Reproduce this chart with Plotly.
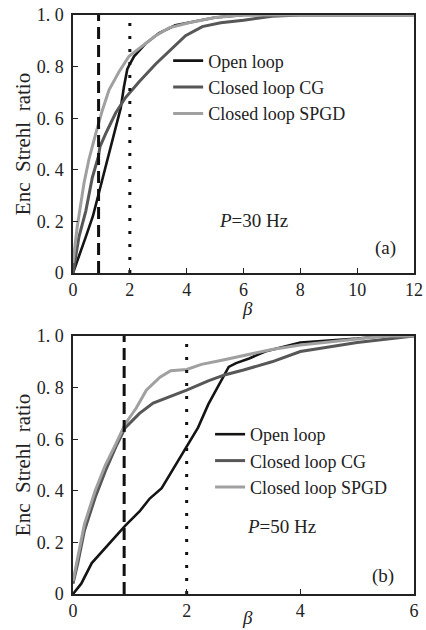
import plotly.graph_objects as go

# ---------------- data ----------------
# panel (a): P = 30 Hz
open_a_x = [0, 0.2, 0.45, 0.7, 0.89, 1.15, 1.44, 1.68, 1.79, 1.91, 2.0, 2.15, 2.56, 3.03, 3.6, 4.0, 4.5, 5.0, 6.0, 8.0, 12.0]
open_a_y = [0, 0.06, 0.14, 0.22, 0.30, 0.41, 0.53, 0.64, 0.72, 0.79, 0.81, 0.84, 0.89, 0.93, 0.96, 0.97, 0.98, 0.99, 1.0, 1.0, 1.0]
cg_a_x = [0, 0.21, 0.45, 0.68, 0.89, 0.95, 1.15, 1.5, 1.85, 2.32, 2.91, 3.38, 3.96, 4.55, 5.2, 6.0, 7.0, 8.0, 12.0]
cg_a_y = [0, 0.14, 0.24, 0.37, 0.45, 0.49, 0.54, 0.62, 0.68, 0.74, 0.81, 0.86, 0.92, 0.955, 0.97, 0.98, 0.995, 1.0, 1.0]
spgd_a_x = [0, 0.15, 0.39, 0.56, 0.8, 1.03, 1.27, 1.62, 1.97, 2.44, 2.91, 3.38, 4.08, 5.0, 6.0, 12.0]
spgd_a_y = [0.04, 0.18, 0.35, 0.44, 0.54, 0.63, 0.71, 0.78, 0.84, 0.88, 0.92, 0.95, 0.97, 0.99, 1.0, 1.0]

# panel (b): P = 50 Hz
open_b_x = [0, 0.145, 0.33, 0.57, 0.92, 1.17, 1.35, 1.56, 1.78, 2.0, 2.2, 2.38, 2.56, 2.74, 2.87, 3.1, 3.38, 4.0, 5.0, 5.5, 6.0]
open_b_y = [0, 0.04, 0.12, 0.18, 0.265, 0.32, 0.37, 0.41, 0.49, 0.57, 0.645, 0.735, 0.81, 0.88, 0.895, 0.913, 0.94, 0.975, 0.99, 1.0, 1.0]
cg_b_x = [0, 0.085, 0.2, 0.39, 0.57, 0.75, 0.92, 1.17, 1.41, 1.66, 2.0, 2.38, 2.68, 3.0, 3.5, 4.0, 5.0, 6.0]
cg_b_y = [0.04, 0.12, 0.245, 0.374, 0.477, 0.568, 0.645, 0.70, 0.74, 0.76, 0.79, 0.826, 0.85, 0.868, 0.90, 0.94, 0.975, 1.0]
spgd_b_x = [0, 0.085, 0.2, 0.39, 0.57, 0.75, 0.92, 1.11, 1.29, 1.53, 1.72, 2.0, 2.26, 2.62, 3.0, 3.5, 4.0, 5.0, 5.5, 6.0]
spgd_b_y = [0.05, 0.14, 0.27, 0.40, 0.50, 0.58, 0.66, 0.72, 0.79, 0.84, 0.865, 0.87, 0.89, 0.906, 0.925, 0.948, 0.965, 0.987, 1.0, 1.0]

# reference vertical lines
dash_beta = [0.9, 0.9]
dot_beta = [2.0, 2.0]
dash_y_a = [0, 1.0]
dot_y_a = [0, 1.0]
dash_y_b = [0, 1.0]
dot_y_b = [0, 0.98]

series_names = ["Open loop", "Closed loop CG", "Closed loop SPGD"]
y_tickvals = [0, 0.2, 0.4, 0.6, 0.8, 1.0]
y_ticktext = ["0", "0.\u00a02", "0.\u00a04", "0.\u00a06", "0.\u00a08", "1.\u00a00"]
x_ticks_a = [0, 2, 4, 6, 8, 10, 12]
x_ticks_b = [0, 2, 4, 6]

# ---------------- style ----------------
FONT = "Liberation Serif"
colors = ["#141414", "#575757", "#a0a0a0"]
widths = [2.6, 3.0, 3.0]

fig = go.Figure()

def add_panel(xs, ys, xa, ya, legend):
    for (x, y), name, c, w in zip(zip(xs, ys), series_names, colors, widths):
        fig.add_trace(go.Scatter(x=x, y=y, mode="lines", name=name,
                                 line=dict(color=c, width=w),
                                 xaxis=xa, yaxis=ya, legend=legend))

add_panel([open_a_x, cg_a_x, spgd_a_x], [open_a_y, cg_a_y, spgd_a_y], "x", "y", "legend")
add_panel([open_b_x, cg_b_x, spgd_b_x], [open_b_y, cg_b_y, spgd_b_y], "x2", "y2", "legend2")

for xa, ya, dy, ty in [("x", "y", dash_y_a, dot_y_a), ("x2", "y2", dash_y_b, dot_y_b)]:
    fig.add_trace(go.Scatter(x=dash_beta, y=dy, mode="lines", showlegend=False,
                             line=dict(color="#111", width=3, dash="12px,6px"),
                             xaxis=xa, yaxis=ya))
    fig.add_trace(go.Scatter(x=dot_beta, y=ty, mode="lines", showlegend=False,
                             line=dict(color="#111", width=3, dash="3px,10px"),
                             xaxis=xa, yaxis=ya))

axis_common = dict(showline=True, linecolor="#222", linewidth=1.5, mirror=True,
                   ticks="inside", ticklen=5, tickwidth=1.2, tickcolor="#222",
                   showgrid=False, zeroline=False, automargin=False,
                   tickfont=dict(family=FONT, size=18, color="#222"))

ytitle = dict(text="Enc\u00a0 Strehl\u00a0 ratio", font=dict(family=FONT, size=21, color="#222"), standoff=0)

fig.update_layout(
    width=426, height=630,
    margin=dict(l=73, r=12, t=15, b=36),
    paper_bgcolor="white", plot_bgcolor="white",
    font=dict(family=FONT, color="#222"),
    xaxis=dict(domain=[0, 1], range=[0, 12], tickvals=x_ticks_a, anchor="y", **axis_common),
    yaxis=dict(domain=[0.5544, 1], range=[0, 1.0], tickvals=y_tickvals, ticktext=y_ticktext,
               anchor="x", title=ytitle, ticklabelstandoff=4, **axis_common),
    xaxis2=dict(domain=[0, 1], range=[0, 6], tickvals=x_ticks_b, anchor="y2", **axis_common),
    yaxis2=dict(domain=[0, 0.4456], range=[0, 1.0], tickvals=y_tickvals, ticktext=y_ticktext,
                anchor="x2", title=ytitle, ticklabelstandoff=4, **axis_common),
    legend=dict(x=0.279, y=0.875, xanchor="left", yanchor="middle", bgcolor="rgba(0,0,0,0)",
                font=dict(family=FONT, size=18, color="#222"), tracegroupgap=0, itemwidth=30),
    legend2=dict(x=0.402, y=0.2297, xanchor="left", yanchor="middle", bgcolor="rgba(0,0,0,0)",
                 font=dict(family=FONT, size=18, color="#222"), tracegroupgap=0, itemwidth=30),
    showlegend=True,
)

ann_font = dict(family=FONT, size=19, color="#222")
def ann(text, xr, yr, x, y, **kw):
    fig.add_annotation(text=text, xref=xr, yref=yr, x=x, y=y, xanchor="center", yanchor="middle",
                       showarrow=False, font=ann_font, **kw)

ann("<i>P</i>=30 Hz", "x domain", "y domain", 0.528, 0.205)
ann("(a)", "x domain", "y domain", 0.915, 0.097)
ann("<i>P</i>=50 Hz", "x2 domain", "y2 domain", 0.61, 0.26)
ann("(b)", "x2 domain", "y2 domain", 0.909, 0.07)
ann("<i>β</i>", "x domain", "y domain", 0.513, 0, yshift=-35)
ann("<i>β</i>", "x2 domain", "y2 domain", 0.513, 0, yshift=-23)

fig.write_html("out.html", config={"displayModeBar": False},
               post_script="document.body.style.margin='0';document.body.style.overflow='hidden';")
